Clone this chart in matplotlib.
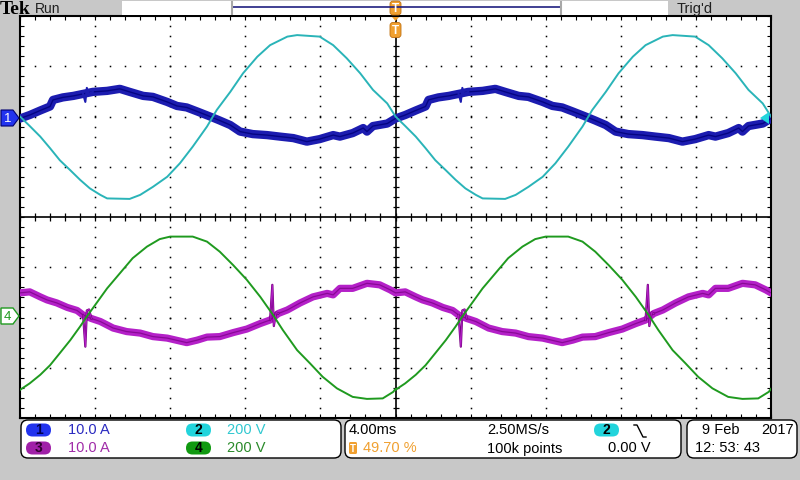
import numpy as np
import matplotlib.pyplot as plt
from matplotlib.patches import FancyBboxPatch, Polygon, Rectangle

plt.rcParams['font.family'] = ['Liberation Sans', 'DejaVu Sans']

# 4 ms/div, one 50 Hz cycle = 20 ms = 5 divisions, two cycles on screen
PERIOD = 5.0
N_CYCLES = 2

# ---- one cycle of each trace, in screen divisions (x 0..5, y -4..4) ----
# ch1 current (noisy)
ch1_x = [0.00, 0.13, 0.27, 0.40, 0.44, 0.57, 0.71, 0.84, 0.97, 1.16, 1.33, 1.46,
         1.64, 1.77, 1.96, 2.09, 2.22, 2.36, 2.53, 2.66, 2.80, 2.93, 3.10, 3.29,
         3.46, 3.64, 3.82, 3.99, 4.17, 4.26, 4.43, 4.57, 4.62, 4.70, 4.89, 5.00]
ch1_y = [1.96, 2.03, 2.12, 2.20, 2.33, 2.38, 2.41, 2.45, 2.49, 2.51, 2.55, 2.49,
         2.41, 2.39, 2.29, 2.21, 2.18, 2.10, 2.00, 1.92, 1.83, 1.70, 1.65, 1.63,
         1.60, 1.57, 1.50, 1.55, 1.63, 1.60, 1.67, 1.77, 1.70, 1.81, 1.86, 1.96]
ch1_glitch_x = [0.84, 0.87, 0.89, 0.91, 0.97]
ch1_glitch_y = [2.45, 2.29, 2.57, 2.45, 2.49]

# ch2 voltage
ch2_x = [0.00, 0.13, 0.27, 0.40, 0.53, 0.67, 0.80, 0.93, 1.07, 1.16, 1.46, 1.60,
         1.77, 1.96, 2.13, 2.30, 2.49, 2.62, 2.80, 2.97, 3.16, 3.33, 3.56, 3.69,
         3.99, 4.17, 4.35, 4.53, 4.70, 4.89, 5.00]
ch2_y = [2.00, 1.81, 1.60, 1.37, 1.13, 0.93, 0.74, 0.57, 0.44, 0.37, 0.36, 0.44,
         0.60, 0.80, 1.07, 1.40, 1.80, 2.13, 2.49, 2.86, 3.19, 3.42, 3.59, 3.62,
         3.59, 3.42, 3.16, 2.86, 2.53, 2.26, 2.00]

# ch3 current (noisy)
ch3_x = [0.00, 0.13, 0.27, 0.36, 0.49, 0.63, 0.76, 0.84, 0.95, 1.07, 1.24, 1.42,
         1.60, 1.77, 1.96, 2.22, 2.36, 2.49, 2.66, 2.84, 3.02, 3.20, 3.33, 3.44,
         3.56, 3.73, 3.90, 4.09, 4.17, 4.26, 4.43, 4.62, 4.79, 4.93, 5.00]
ch3_y = [-1.51, -1.49, -1.59, -1.65, -1.71, -1.80, -1.86, -1.95, -2.02, -2.08, -2.21, -2.28,
         -2.31, -2.38, -2.41, -2.50, -2.45, -2.39, -2.38, -2.30, -2.23, -2.12, -2.05, -1.92,
         -1.85, -1.71, -1.59, -1.52, -1.55, -1.42, -1.42, -1.32, -1.35, -1.45, -1.51]
ch3_glitch1_x = [0.84, 0.87, 0.89, 0.92, 0.95]
ch3_glitch1_y = [-1.95, -2.58, -1.86, -1.84, -2.02]
ch3_glitch2_x = [3.33, 3.36, 3.38, 3.41, 3.44]
ch3_glitch2_y = [-2.05, -1.35, -2.17, -1.90, -1.92]

# ch4 voltage
ch4_x = [0.00, 0.13, 0.27, 0.40, 0.53, 0.67, 0.80, 0.89, 1.03, 1.16, 1.33, 1.50,
         1.69, 1.86, 2.00, 2.30, 2.49, 2.66, 2.84, 3.02, 3.20, 3.37, 3.50, 3.69,
         3.86, 4.03, 4.22, 4.43, 4.62, 4.83, 4.97, 5.00]
ch4_y = [-3.44, -3.31, -3.14, -2.95, -2.71, -2.45, -2.18, -1.98, -1.69, -1.42, -1.12, -0.82,
         -0.59, -0.44, -0.39, -0.39, -0.49, -0.69, -0.96, -1.25, -1.59, -1.95, -2.25, -2.65,
         -2.91, -3.18, -3.41, -3.58, -3.62, -3.61, -3.48, -3.42]

GRAY = '#c8c8c8'
C1, C1_DARK, C1_BADGE = '#1c1cb0', '#000078', '#2233ee'
C2, C2_BADGE = '#2ab4b8', '#22d4dc'
C3, C3_DARK, C3_BADGE = '#b420c8', '#760080', '#a020a8'
C4, C4_BADGE = '#1f9a1f', '#119a11'
ORANGE = '#f0a030'


def cycles(x, y):
    xs = np.concatenate([np.asarray(x) + k * PERIOD for k in range(N_CYCLES)])
    ys = np.concatenate([np.asarray(y)] * N_CYCLES)
    return xs, ys


fig = plt.figure(figsize=(8, 4.8), dpi=100, facecolor=GRAY)

# graticule: 10 x 8 divisions
ax = fig.add_axes([20 / 800, 62 / 480, 751 / 800, 402 / 480])
ax.set_xlim(0, 10)
ax.set_ylim(-4, 4)
ax.set_facecolor('white')
for s in ax.spines.values():
    s.set_linewidth(1.5)
ax.set_xticks(np.arange(0, 10.001, 0.2))
ax.set_yticks(np.arange(-4, 4.001, 0.2))
ax.tick_params(direction='in', length=3, width=0.8, top=True, right=True,
               labelbottom=False, labelleft=False)

sub_x = np.arange(0, 10.001, 0.2)
sub_y = np.arange(-4, 4.001, 0.2)
for k in range(1, 10):
    if k != 5:
        ax.plot(np.full_like(sub_y, k), sub_y, ls='none', marker='s', ms=1.1,
                mew=0, color='black', zorder=1)
for j in range(-3, 4):
    if j != 0:
        ax.plot(sub_x, np.full_like(sub_x, j), ls='none', marker='s', ms=1.1,
                mew=0, color='black', zorder=1)
ax.axhline(0, color='black', lw=1.2, zorder=1)
ax.axvline(5, color='black', lw=1.2, zorder=1)
ax.plot(sub_x, np.zeros_like(sub_x), ls='none', marker='|', ms=5.5, mew=0.9,
        color='black', zorder=1)
ax.plot(np.full_like(sub_y, 5), sub_y, ls='none', marker='_', ms=5, mew=0.9,
        color='black', zorder=1)

# noisy current traces
x, y = cycles(ch1_x, ch1_y)
ax.plot(x, y, color=C1, lw=6.0, zorder=3)
ax.plot(x, y, color=C1_DARK, lw=1.0, alpha=0.8, zorder=3)
x, y = cycles(ch3_x, ch3_y)
ax.plot(x, y, color=C3, lw=5.2, zorder=3)
ax.plot(x, y, color=C3_DARK, lw=0.9, alpha=0.7, zorder=3)

# switching glitches, drawn cycle by cycle
for k in range(N_CYCLES):
    off = k * PERIOD
    ax.plot(np.asarray(ch1_glitch_x) + off, ch1_glitch_y, color=C1, lw=1.5, zorder=3)
    for gx, gy in [(ch3_glitch1_x, ch3_glitch1_y), (ch3_glitch2_x, ch3_glitch2_y)]:
        ax.plot(np.asarray(gx) + off, gy, color=C3_DARK, lw=1.6, zorder=3)
        ax.plot(np.asarray(gx) + off, gy, color=C3, lw=0.7, zorder=3)

# voltage traces
x, y = cycles(ch2_x, ch2_y)
ax.plot(x, y, color=C2, lw=1.4, zorder=4)
x, y = cycles(ch4_x, ch4_y)
ax.plot(x, y, color=C4, lw=1.4, zorder=4)

# overlay in screen pixels for the scope furniture
ov = fig.add_axes([0, 0, 1, 1], zorder=10)
ov.set_xlim(0, 800)
ov.set_ylim(480, 0)
ov.axis('off')

# top bar
ov.text(0, 9, 'Tek', fontsize=14, fontweight='bold', family='Liberation Serif',
        va='center', ha='left')
ov.text(35, 9, 'Run', fontsize=10, va='center', ha='left', color='#202020')
ov.add_patch(Rectangle((122, 1), 546, 14, facecolor='white', edgecolor='none'))
ov.plot([232, 561], [7, 7], color='#202080', lw=1.2)
ov.plot([232, 232], [2, 14], color='#a8a8a8', lw=1.5)
ov.plot([561, 561], [2, 14], color='#a8a8a8', lw=1.5)
ov.text(677, 9, "Trig'd", fontsize=10.5, va='center', ha='left', color='#202020')

# trigger position markers
for cy, h in [(8, 14), (30, 15)]:
    ov.add_patch(FancyBboxPatch((390, cy - h / 2), 11, h,
                                boxstyle='round,pad=0,rounding_size=3',
                                facecolor=ORANGE, edgecolor='#c07010', lw=0.6))
    ov.text(395.5, cy + 0.5, 'T', fontsize=8.5, fontweight='bold', color='white',
            ha='center', va='center')
ov.add_patch(Polygon([(392, 17), (399, 17), (395.5, 21)], closed=True,
                     facecolor=ORANGE, edgecolor='none'))

# channel ground markers
ov.add_patch(Polygon([(1, 110), (13, 110), (19, 118), (13, 126), (1, 126)], closed=True,
                     facecolor=C1_BADGE, edgecolor='#000070', lw=0.8))
ov.text(7.5, 118.5, '1', fontsize=9.5, color='white', ha='center', va='center')
ov.add_patch(Polygon([(1, 308), (13, 308), (19, 316), (13, 324), (1, 324)], closed=True,
                     facecolor='white', edgecolor=C4, lw=1.0))
ov.text(7.5, 316.5, '4', fontsize=9.5, color=C4, ha='center', va='center')
ov.add_patch(Polygon([(769, 112), (760, 118), (769, 124)], closed=True,
                     facecolor=C2_BADGE, edgecolor='none'))

# bottom readout panels
for x0, x1 in [(21, 341), (345, 681), (687, 797)]:
    ov.add_patch(FancyBboxPatch((x0, 420), x1 - x0, 38,
                                boxstyle='round,pad=0,rounding_size=7',
                                facecolor='white', edgecolor='black', lw=1.0))


def badge(cx, cy, label, color, txt_color='black'):
    ov.add_patch(FancyBboxPatch((cx - 12.5, cy - 6.5), 25, 13,
                                boxstyle='round,pad=0,rounding_size=6.5',
                                facecolor=color, edgecolor='none'))
    ov.text(cx, cy + 0.5, label, fontsize=10, fontweight='bold', color=txt_color,
            ha='center', va='center')


FS = 10.5
badge(38.5, 430, '1', C1_BADGE, '#000050')
badge(38.5, 448, '3', C3_BADGE, '#300030')
badge(198.5, 430, '2', C2_BADGE)
badge(198.5, 448, '4', C4_BADGE)
ov.text(68, 430.5, '10.0 A', fontsize=FS, color='#2a2ac0', va='center')
ov.text(68, 448.5, '10.0 A', fontsize=FS, color='#a02ca8', va='center')
ov.text(227, 430.5, '200 V', fontsize=FS, color='#30c8d0', va='center')
ov.text(227, 448.5, '200 V', fontsize=FS, color='#2a8a2a', va='center')

ov.text(349, 430.5, '4.00ms', fontsize=FS, color='black', va='center')
ov.add_patch(FancyBboxPatch((349, 442), 8, 12, boxstyle='round,pad=0,rounding_size=1.5',
                            facecolor=ORANGE, edgecolor='none'))
ov.text(353, 448.5, 'T', fontsize=7, fontweight='bold', color='white',
        ha='center', va='center')
ov.text(363, 448.5, '49.70 %', fontsize=FS, color=ORANGE, va='center')
ov.text(487, 430.5, '2.50MS/s', fontsize=FS, color='black', va='center')
ov.text(487, 448.5, '100k points', fontsize=FS, color='black', va='center')
badge(606.5, 430, '2', C2_BADGE)
ov.plot([634, 637, 643, 646], [425, 425, 437, 437], color='black', lw=1.0)
ov.text(608, 448.5, '0.00 V', fontsize=FS, color='black', va='center')

ov.text(702, 430.5, '9 Feb', fontsize=FS, color='black', va='center')
ov.text(761, 430.5, '2017', fontsize=FS, color='black', va='center')
ov.text(695, 448.5, '12: 53: 43', fontsize=FS, color='black', va='center')

fig.savefig('out.png', dpi=100, facecolor=fig.get_facecolor())
